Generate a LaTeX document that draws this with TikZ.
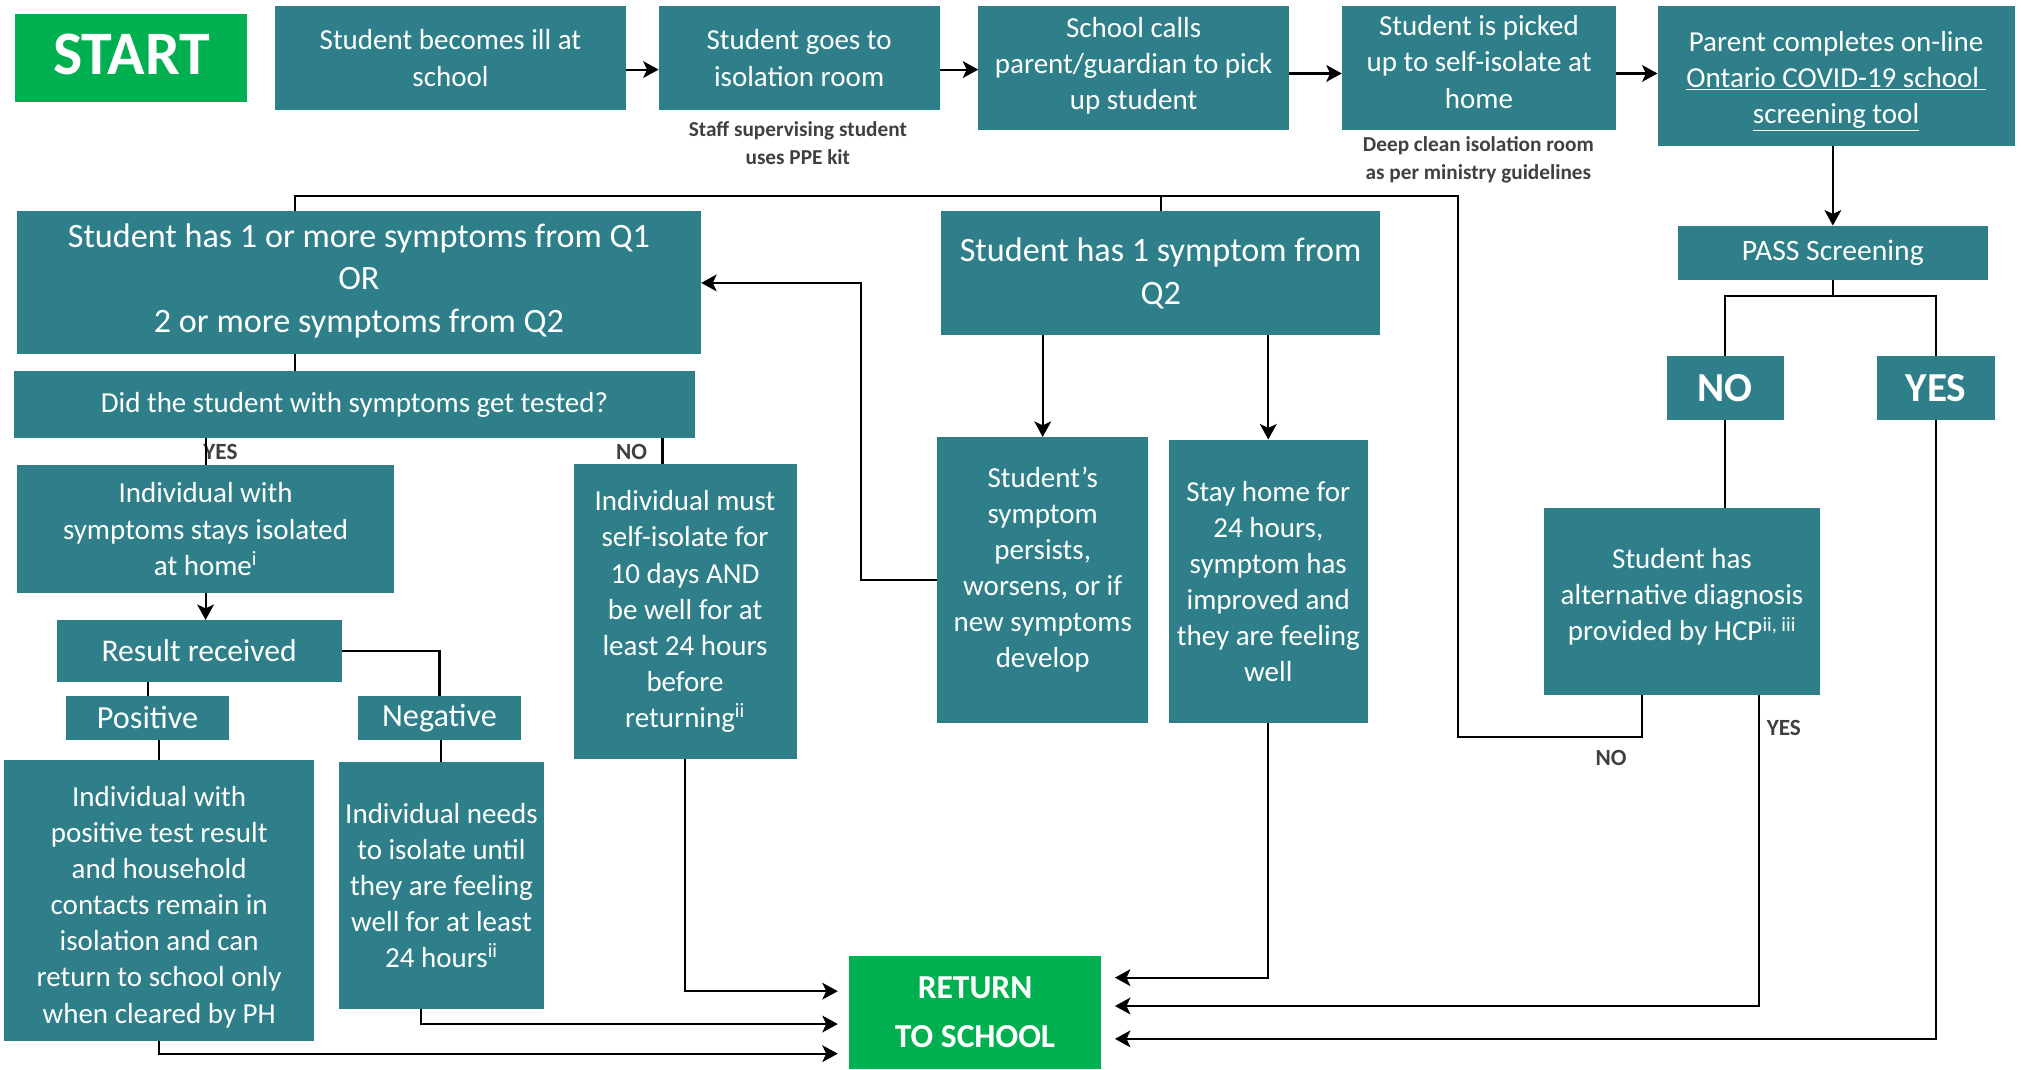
\documentclass[tikz,border=0pt]{standalone}
\usepackage{fontspec}
\setmainfont{Carlito}
\usetikzlibrary{arrows.meta}

\definecolor{teal}{HTML}{2E7F8A}
\definecolor{okgreen}{HTML}{00B050}
\definecolor{notegray}{HTML}{404040}

\tikzset{
  tealbox/.style={fill=teal, text=white, anchor=north west, inner sep=0pt, outer sep=0pt, align=center,
                  font=\fontsize{22.5}{28}\selectfont},
  greenbox/.style={tealbox, fill=okgreen, font=\bfseries\fontsize{26}{38}\selectfont},
  note/.style={text=notegray, align=center, font=\bfseries\fontsize{16.5}{22}\selectfont},
  branch/.style={note, font=\bfseries\fontsize{18}{22}\selectfont},
  link/.style={line width=1.6pt},
  arr/.style={link, -{Stealth[length=12pt,width=13pt,inset=3pt]}},
}

\begin{document}
\begin{tikzpicture}[x=1pt, y=-1pt]
        \useasboundingbox (0,0) rectangle (1568,830);

        % top row
        \node[greenbox, minimum width=180pt, minimum height=68pt, font=\bfseries\fontsize{48}{50}\selectfont] (start) at (12,11) {START\\[-44pt]};
        \node[tealbox, minimum width=273pt, minimum height=80pt] (ill) at (213,5) {Student becomes ill at\\school};
        \node[tealbox, minimum width=218pt, minimum height=80pt] (isol) at (511,5) {Student goes to\\isolation room};
        \node[tealbox, minimum width=241pt, minimum height=96pt] (calls) at (759,5) {School calls\\parent/guardian to pick\\up student\\[-20pt]};
        \node[tealbox, minimum width=213pt, minimum height=96pt] (picked) at (1041,5) {Student is picked\\up to self-isolate at\\home\\[-18pt]};
        \node[tealbox, minimum width=277pt, minimum height=108pt] (parent) at (1286,5) {\rule{0pt}{23pt}Parent completes on-line\\\underline{Ontario COVID-19 school }\\\underline{screening tool}};

        \node[note] (ppe) at (619,111) {Staff supervising student\\uses PPE kit};
        \node[note] (clean) at (1147,124) {Deep clean isolation room\\as per ministry guidelines};

        \coordinate (rowa) at (0,54);
        \coordinate (rowb) at (0,57);
        \foreach \a/\b in {ill/isol, isol/calls}
          \draw[arr] (\a.east |- rowa) -- (\b.west |- rowa);
        \foreach \a/\b in {calls/picked, picked/parent}
          \draw[arr] (\a.east |- rowb) -- (\b.west |- rowb);

        % symptom boxes
        \node[tealbox, minimum width=531pt, minimum height=111pt, font=\fontsize{26.5}{33}\selectfont] (multi) at (13,164) {Student has 1 or more symptoms from Q1\\OR\\2 or more symptoms from Q2\\[-25pt]};
        \node[tealbox, minimum width=341pt, minimum height=96pt, font=\fontsize{26.5}{33}\selectfont] (single) at (730,164) {Student has 1 symptom from\\Q2};
        \node[tealbox, minimum width=528pt, minimum height=52pt] (tested) at (11,288) {Did the student with symptoms get tested?};

        \node[tealbox, minimum width=293pt, minimum height=99pt] (home) at (13,361) {Individual with\\symptoms stays isolated\\at home\textsuperscript{i}};
        \node[tealbox, minimum width=173pt, minimum height=229pt] (must) at (445,360) {Individual must\\self-isolate for\\10 days AND\\be well for at\\least 24 hours\\before\\returning\textsuperscript{ii}};
        \node[tealbox, minimum width=164pt, minimum height=222pt] (persists) at (727,339) {Student’s\\symptom\\persists,\\worsens, or if\\new symptoms\\develop\\[-8pt]};
        \node[tealbox, minimum width=154pt, minimum height=220pt] (improved) at (907,341) {Stay home for\\24 hours,\\symptom has\\improved and\\they are feeling\\well};

        \node[tealbox, minimum width=221pt, minimum height=48pt, font=\fontsize{24.5}{28}\selectfont] (result) at (44,481) {Result received};
        \node[tealbox, minimum width=127pt, minimum height=34pt, font=\fontsize{25}{28}\selectfont] (positive) at (51,540) {Positive};
        \node[tealbox, minimum width=126pt, minimum height=34pt, font=\fontsize{25}{28}\selectfont] (negative) at (278,540) {Negative};
        \node[tealbox, minimum width=241pt, minimum height=218pt] (posdet) at (3,590) {\rule{0pt}{25pt}Individual with\\positive test result\\and household\\contacts remain in\\isolation and can\\return to school only\\when cleared by PH};
        \node[tealbox, minimum width=159pt, minimum height=192pt] (negdet) at (263,591) {Individual needs\\to isolate until\\they are feeling\\well for at least\\24 hours\textsuperscript{ii}};

        % screening side
        \node[tealbox, minimum width=240pt, minimum height=42pt, font=\fontsize{23}{28}\selectfont] (pass) at (1302,175) {PASS Screening};
        \node[tealbox, minimum width=91pt, minimum height=50pt, font=\bfseries\fontsize{32}{34}\selectfont] (no) at (1293,276) {NO};
        \node[tealbox, minimum width=92pt, minimum height=50pt, font=\bfseries\fontsize{32}{34}\selectfont] (yes) at (1456,276) {YES};
        \node[tealbox, minimum width=214pt, minimum height=145pt] (altdiag) at (1198,394) {Student has\\alternative diagnosis\\provided by HCP\textsuperscript{ii, iii}\\[-18pt]};

        \node[greenbox, minimum width=195pt, minimum height=87pt] (return) at (659,742) {RETURN\\TO SCHOOL};

        % labels
        \node[branch] (lyes) at (171,351) {YES};
        \node[branch] (lno) at (490,351) {NO};
        \node[branch] (lno2) at (1250,588) {NO};
        \node[branch] (lyes2) at (1384,565) {YES};

        % connectors
        \coordinate (looptop) at (1131,152);
        \coordinate (loopbot) at (1131,572);
        \coordinate (split) at (1422,230);

        \draw[arr] (parent.south -| pass.north) -- (pass.north);
        \draw[link] (pass.south) -- (split);
        \draw[link] (no.north) |- (split) -| (yes.north);
        \draw[link] (no.south) -- (no.south |- altdiag.north);
        \draw[link] ([xshift=-31pt]altdiag.south) |- (loopbot) -- (looptop) -| ([xshift=-49.5pt]multi.north);
        \draw[link] (single.north |- looptop) -- (single.north);

        \draw[arr] (single.south -| persists.north) -- (persists.north);
        \draw[arr] (single.south -| improved.north) -- (improved.north);
        \draw[arr] (persists.west) -- ++(-59,0) |- (multi.east);

        \draw[link] ([xshift=-49.5pt]multi.south) -- ([xshift=-49.5pt]multi.south |- tested.north);
        \draw[link] (tested.south -| home.north) -- (home.north);
        \draw[link] ([xshift=-17.5pt]must.north |- tested.south) -- ([xshift=-17.5pt]must.north);
        \draw[arr] (home.south) -- (home.south |- result.north);
        \draw[link] (result.south -| positive.north) -- (positive.north);
        \draw[link] (result.east) -| (negative.north);
        \draw[link] (positive.south -| posdet.north) -- (posdet.north);
        \draw[link] (negative.south -| negdet.north) -- (negdet.north);

        % into RETURN TO SCHOOL
        \draw[arr, shorten >=9pt] (must.south) |- ([yshift=16.5pt]return.west);
        \draw[arr, shorten >=9pt] ([xshift=-16pt]negdet.south) |- ([yshift=-9pt]return.west);
        \draw[arr, shorten >=9pt] (posdet.south) |- ([yshift=-32pt]return.west);
        \draw[arr, shorten >=11pt] (improved.south) |- ([yshift=27pt]return.east);
        \draw[arr, shorten >=11pt] ([xshift=60pt]altdiag.south) |- ([yshift=5pt]return.east);
        \draw[arr, shorten >=11pt] (yes.south) |- ([yshift=-20.5pt]return.east);

\end{tikzpicture}
\end{document}
